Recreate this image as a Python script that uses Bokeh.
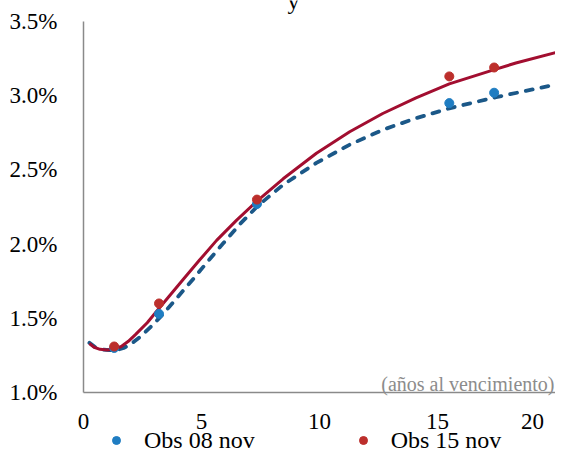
from bokeh.plotting import figure
from bokeh.models import (FixedTicker, PrintfTickFormatter, Label, Legend, LegendItem,
                          ColumnDataSource, Range1d)
from bokeh.embed import file_html
from bokeh.resources import INLINE

# Fitted curves (years to maturity, yield %)
curve15_x = [0.25, 0.45, 0.7, 1.0, 1.3, 1.6, 1.9, 2.2, 2.7, 3.24, 3.7, 4.23, 4.9, 5.64,
             6.48, 7.40, 8.46, 9.87, 11.28, 12.68, 14.09, 15.5, 17.41, 18.32, 20.0]
curve15_y = [1.330, 1.305, 1.291, 1.286, 1.293, 1.31, 1.345, 1.39, 1.47, 1.574, 1.662,
             1.763, 1.889, 2.025, 2.16, 2.297, 2.44, 2.612, 2.757, 2.88, 2.985, 3.08,
             3.176, 3.22, 3.29]
curve08_x = [0.25, 0.5, 0.8, 1.1, 1.41, 1.7, 2.0, 2.4, 2.9, 3.38, 4.0, 4.65, 5.3, 5.92,
             6.6, 7.40, 8.46, 9.87, 11.28, 12.68, 14.09, 15.5, 17.48, 20.0]
curve08_y = [1.335, 1.305, 1.29, 1.285, 1.286, 1.30, 1.325, 1.375, 1.45, 1.53, 1.645,
             1.765, 1.89, 2.005, 2.13, 2.26, 2.40, 2.547, 2.67, 2.77, 2.848, 2.915,
             2.99, 3.075]

# Observed yields
obs_x = [1.3, 3.2, 7.35, 15.5, 17.4]
obs_08 = [1.30, 1.53, 2.27, 2.95, 3.02]
obs_15 = [1.31, 1.60, 2.30, 3.13, 3.19]

x_ticks = [0, 5, 10, 15, 20]
y_ticks = [1.0, 1.5, 2.0, 2.5, 3.0, 3.5]
legend_labels = ["Obs 08 nov", "Obs 15 nov"]
axis_note = "(años al vencimiento)"
title_fragment = "y"

FONT = "Liberation Serif"

# Layout (canvas pixels)
W, H = 555, 454
X0_PX, X1_PX = 83, 555        # x = 0 and x = 20
YTOP_PX, YBOT_PX = 21, 392    # y = 3.5 and y = 1.0
ppx = (X1_PX - X0_PX) / (x_ticks[-1] - x_ticks[0])
ppy = (YBOT_PX - YTOP_PX) / (y_ticks[-1] - y_ticks[0])

p = figure(width=W, height=H, output_backend="svg", toolbar_location=None,
           x_range=Range1d(x_ticks[0] - X0_PX / ppx, x_ticks[-1] + (W - X1_PX) / ppx),
           y_range=Range1d(y_ticks[0] - (H - YBOT_PX) / ppy, y_ticks[-1] + YTOP_PX / ppy),
           min_border_left=0, min_border_right=0, min_border_top=0,
           min_border_bottom=0)
p.outline_line_color = None
p.xgrid.visible = False
p.ygrid.visible = False

for ax in (p.xaxis[0], p.yaxis[0]):
    ax.axis_line_color = "#8A8A8A"
    ax.axis_line_width = 1.5
    ax.major_tick_line_color = None
    ax.minor_tick_line_color = None
    ax.major_label_text_font = FONT
    ax.major_label_text_font_size = "23px"
    ax.major_label_text_color = "black"

p.xaxis.ticker = FixedTicker(ticks=x_ticks)
p.xaxis.fixed_location = y_ticks[0]
p.xaxis.bounds = (x_ticks[0], x_ticks[-1])
p.xaxis.major_label_standoff = 10
p.xaxis.major_label_overrides = {20: "20\u2002"}
p.yaxis.ticker = FixedTicker(ticks=y_ticks)
p.yaxis.fixed_location = x_ticks[0]
p.yaxis.bounds = (y_ticks[0], y_ticks[-1])
p.yaxis.formatter = PrintfTickFormatter(format="%.1f%%")
p.yaxis.major_label_standoff = 20

src15 = ColumnDataSource(dict(x=curve15_x, y=curve15_y))
src08 = ColumnDataSource(dict(x=curve08_x, y=curve08_y))
src_o = ColumnDataSource(dict(x=obs_x, y08=obs_08, y15=obs_15))

p.line("x", "y", source=src08, line_color="#1B5888", line_width=3.8,
       line_dash="7 9", line_cap="round")
p.line("x", "y", source=src15, line_color="#A20E30", line_width=3)
r08 = p.scatter("x", "y08", source=src_o, size=9, fill_color="#1F7DC2",
                line_color="#1F7DC2")
r15 = p.scatter("x", "y15", source=src_o, size=9, fill_color="#BC2F2C",
                line_color="#BC2F2C")

legend = Legend(items=[LegendItem(label=legend_labels[0], renderers=[r08]),
                       LegendItem(label=legend_labels[1], renderers=[r15])],
                orientation="horizontal", location=(106, -6),
                border_line_color=None, background_fill_alpha=0,
                label_text_font=FONT, label_text_font_size="24px",
                label_text_color="black",
                glyph_width=20, glyph_height=40, label_height=40, label_standoff=18,
                spacing=98, padding=0, margin=0)
p.add_layout(legend, "center")

p.add_layout(Label(x=W - 1, y=H - 383, x_units="screen", y_units="screen",
                   text=axis_note, text_font=FONT,
                   text_font_size="20px", text_color="#8C8C8C",
                   text_align="right", text_baseline="alphabetic"))
p.add_layout(Label(x=293, y=H, x_units="screen", y_units="screen",
                   text=title_fragment, text_font=FONT, text_font_size="24px",
                   text_color="black", text_align="center",
                   text_baseline="alphabetic"))

open("out.html", "w").write(file_html(p, INLINE))
